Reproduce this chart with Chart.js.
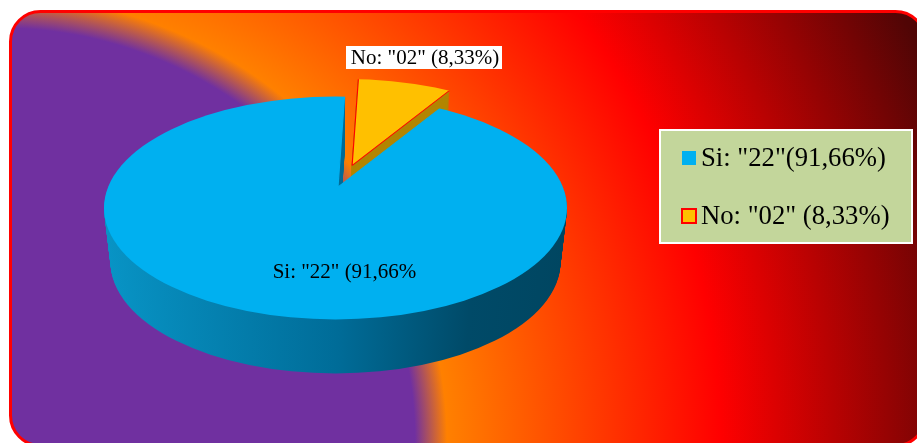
<!DOCTYPE html>
<html>
<head>
<meta charset="utf-8">
<style>
html, body { margin: 0; padding: 0; background: #fff; overflow: hidden; }
#wrap { position: relative; width: 917px; height: 443px; }
</style>
<script src="https://cdn.jsdelivr.net/npm/chart.js@4"></script>
</head>
<body>
<div id="wrap"><canvas id="grafica" width="917" height="443"></canvas></div>
<script>
// chart data
const categories = ["Si", "No"];
const valores = [22, 2];
const etiquetas = ['Si: "22" (91,66%', 'No: "02" (8,33%)'];
const leyenda = ['Si: "22"(91,66%)', 'No: "02" (8,33%)'];
const colores = ["#00B0F0", "#FFC000"];
const bordes = ["#00B0F0", "#FF0000"];

const FUENTE = '"Liberation Serif", "Times New Roman", serif';
const APLASTE = 111.5 / 231.5;  // ellipse ry / rx
const PROF = 54;                // height of the pie wall
const SEPARA = [0, 38];         // how far each slice is pulled out
// perspective: the tip of each slice sits above the ellipse centre
const APICE = [[2.5, -21], [5.5, -25]];

function marco(ctx) {
    ctx.beginPath();
    ctx.roundRect(10.5, 11.5, 915, 434, 30);
}

// background panel, behind everything
const fondo = {
    id: "fondo",
    beforeDraw(chart) {
        const ctx = chart.ctx;
        let g = ctx.createRadialGradient(0, 443, 0, 0, 443, 1000);
        g.addColorStop(0, "#7030A0");
        g.addColorStop(0.415, "#7030A0");
        g.addColorStop(0.447, "#FF8000");
        g.addColorStop(0.72, "#FF0000");
        g.addColorStop(1, "#500505");
        ctx.save();
        marco(ctx);
        ctx.fillStyle = g;
        ctx.fill();
        ctx.lineWidth = 3;
        ctx.strokeStyle = "#FF0000";
        ctx.stroke();
        ctx.restore();
    }
};

// draws a slice flattened, with a wall under it
function cara(ctx, arc, i, dy, relleno) {
    const mid = (arc.startAngle + arc.endAngle) / 2;
    const sx = Math.cos(mid) * SEPARA[i];
    const sy = Math.sin(mid) * SEPARA[i] * APLASTE;
    const copia = Object.create(arc);
    copia.options = Object.assign({}, arc.options);
    if (relleno) {
        copia.options.backgroundColor = relleno;
        copia.options.borderColor = relleno;
    }
    // the bottom of the wall is a little narrower than the top face
    const f = 1 - dy / PROF * 0.028;
    ctx.save();
    ctx.translate(sx + arc.x, sy + dy);
    ctx.scale(f, 1);
    ctx.translate(-arc.x, 0);
    ctx.beginPath();
    ctx.ellipse(arc.x, arc.y, arc.outerRadius, arc.outerRadius * APLASTE, 0, 0, Math.PI * 2);
    ctx.clip();
    ctx.translate(arc.x + APICE[i][0], arc.y + APICE[i][1]);
    ctx.scale(1.3, 1.3 * APLASTE);
    ctx.translate(-arc.x, -arc.y);
    copia.draw(ctx);
    ctx.restore();
}

const pastel3d = {
    id: "pastel3d",
    beforeDatasetDraw(chart, args) {
        const ctx = chart.ctx;
        const arcos = args.meta.data;
        const r = arcos[0].outerRadius, x0 = arcos[0].x;
        let pared = ctx.createLinearGradient(x0 - r, 0, x0 + r, 0);
        pared.addColorStop(0, "#0A9FD2");
        pared.addColorStop(0.5, "#006C98");
        pared.addColorStop(0.72, "#004A68");
        pared.addColorStop(1, "#00435C");
        // yellow first, the big slice covers its wall
        [1, 0].forEach(i => {
            const color = i === 0 ? pared : "#B38600";
            for (let d = PROF; d > 0; d--) cara(ctx, arcos[i], i, d, color);
            cara(ctx, arcos[i], i, 0, null);
        });
        return false;
    },
    afterDatasetsDraw(chart) {
        const ctx = chart.ctx;
        ctx.save();
        ctx.textBaseline = "alphabetic";
        ctx.textAlign = "center";
        ctx.font = "21px " + FUENTE;
        ctx.fillStyle = "#000";
        ctx.fillText(etiquetas[0], 344.5, 278);
        ctx.fillStyle = "#fff";
        ctx.fillRect(346, 46, 156, 23);
        ctx.fillStyle = "#000";
        ctx.fillText(etiquetas[1], 425, 64);
        ctx.restore();
    }
};

// legend box on the right
const cajaLeyenda = {
    id: "cajaLeyenda",
    afterDraw(chart) {
        const ctx = chart.ctx;
        const base = [166, 224];
        ctx.save();
        ctx.fillStyle = "#C3D69B";
        ctx.fillRect(660, 130, 252, 113);
        ctx.strokeStyle = "#fff";
        ctx.lineWidth = 2;
        ctx.strokeRect(660, 130, 252, 113);
        ctx.font = "26.7px " + FUENTE;
        ctx.textAlign = "left";
        ctx.textBaseline = "alphabetic";
        leyenda.forEach((t, i) => {
            ctx.fillStyle = colores[i];
            ctx.fillRect(682, base[i] - 15, 14, 14);
            if (bordes[i] !== colores[i]) {
                ctx.strokeStyle = bordes[i];
                ctx.lineWidth = 2;
                ctx.strokeRect(682, base[i] - 15, 14, 14);
            }
            ctx.fillStyle = "#000";
            ctx.fillText(t, 701, base[i]);
        });
        ctx.restore();
    }
};

new Chart(document.getElementById("grafica").getContext("2d"), {
    type: "pie",
    data: {
        labels: categories,
        datasets: [{
            data: valores,
            backgroundColor: colores,
            borderColor: bordes,
            borderWidth: 0.9
        }]
    },
    options: {
        responsive: false,
        animation: false,
        rotation: 32,
        radius: 231.5,
        layout: { padding: { left: 0, right: 246, top: 0, bottom: 27 } },
        plugins: { legend: { display: false }, tooltip: { enabled: false } }
    },
    plugins: [fondo, pastel3d, cajaLeyenda]
});
</script>
</body>
</html>
